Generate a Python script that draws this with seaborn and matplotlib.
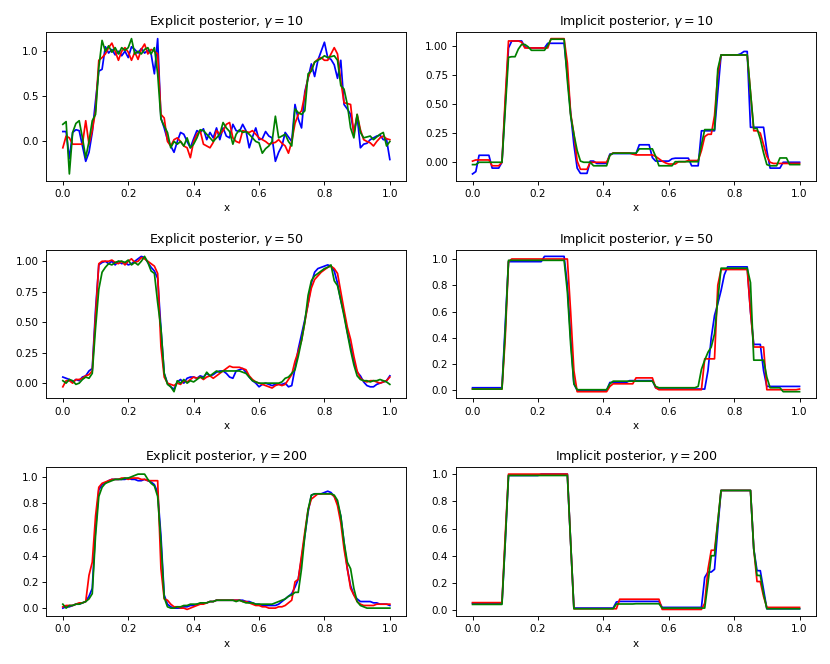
import numpy as np
import seaborn as sns
import matplotlib.pyplot as plt

x = np.round(np.linspace(0, 1, 101), 2)

# explicit posterior, gamma = 10
exp10_blue = [0.11, 0.11, -0.19, 0.10, 0.13, 0.12, -0.05, -0.22, -0.12, 0.10,
              0.45, 0.78, 0.80, 1.05, 0.98, 1.02, 0.96, 1.00, 0.95, 1.00,
              0.93, 1.05, 1.02, 0.98, 1.03, 0.98, 1.01, 0.97, 0.75, 1.14,
              0.26, 0.15, 0.02, -0.05, -0.12, 0.00, 0.10, 0.08, 0.00, -0.07,
              0.03, 0.12, 0.10, 0.14, 0.02, 0.10, 0.04, 0.15, 0.02, 0.15,
              0.06, 0.04, 0.19, 0.12, 0.11, 0.19, 0.12, -0.07, 0.05, 0.15,
              0.02, 0.03, 0.11, 0.06, 0.04, -0.22, -0.12, -0.05, 0.10, 0.05,
              0.00, 0.41, 0.25, 0.15, 0.55, 0.70, 0.86, 0.72, 0.90, 1.00,
              1.10, 0.93, 0.91, 0.85, 0.70, 0.90, 0.41, 0.36, 0.30, 0.10,
              0.28, -0.07, -0.03, -0.02, 0.02, 0.04, 0.06, 0.07, 0.02, 0.02,
              -0.20]
exp10_red = [-0.07, 0.06, 0.04, -0.03, -0.03, -0.03, -0.03, 0.23, -0.03, 0.12,
             0.34, 0.90, 0.93, 0.97, 1.04, 1.09, 1.00, 0.90, 1.00, 1.04,
             0.99, 0.90, 0.99, 0.91, 1.02, 1.08, 0.97, 1.02, 1.00, 0.97,
             0.30, 0.26, 0.00, -0.05, 0.02, 0.04, 0.00, -0.05, -0.07, -0.18,
             0.00, 0.08, 0.12, -0.03, -0.05, -0.07, -0.01, 0.12, 0.08, 0.12,
             0.19, 0.21, 0.04, 0.00, -0.015, 0.12, 0.11, 0.10, 0.12, 0.08,
             0.04, 0.02, 0.00, -0.03, -0.02, -0.01, 0.02, -0.02, -0.05, -0.13,
             0.00, 0.20, 0.30, 0.34, 0.52, 0.71, 0.80, 0.88, 0.91, 0.93,
             0.90, 0.90, 0.97, 1.04, 0.97, 0.67, 0.43, 0.42, 0.41, 0.08,
             0.30, 0.13, 0.02, 0.00, -0.015, -0.05, 0.00, 0.04, 0.06, 0.03,
             0.02]
exp10_green = [0.19, 0.22, -0.36, 0.10, 0.20, 0.23, 0.04, -0.18, 0.00, 0.23,
               0.30, 0.82, 1.12, 1.00, 1.06, 0.99, 1.04, 0.97, 1.04, 1.01,
               1.04, 1.14, 0.97, 1.00, 0.97, 1.02, 1.04, 0.97, 1.04, 0.75,
               0.25, 0.17, 0.10, -0.07, 0.00, -0.03, 0.00, -0.05, 0.04, -0.07,
               -0.03, 0.04, 0.13, 0.12, 0.08, 0.04, 0.00, 0.04, 0.08, 0.21,
               0.15, 0.11, -0.03, 0.08, 0.13, 0.10, 0.11, 0.08, 0.04, 0.00,
               -0.015, -0.13, -0.08, -0.05, 0.00, 0.28, 0.04, 0.06, 0.08, 0.00,
               -0.05, 0.36, 0.32, 0.30, 0.34, 0.75, 0.78, 0.88, 0.90, 0.92,
               0.95, 0.93, 0.94, 0.95, 0.90, 0.62, 0.58, 0.41, 0.15, 0.04,
               0.30, 0.10, 0.04, 0.05, 0.06, 0.02, 0.05, 0.08, 0.10, -0.05,
               0.00]

# explicit posterior, gamma = 50
exp50_blue = [0.05, 0.04, 0.03, 0.01, 0.03, 0.02, 0.05, 0.06, 0.10, 0.12,
              0.60, 0.97, 0.99, 1.00, 0.98, 1.00, 0.97, 1.00, 0.98, 0.99,
              0.97, 0.98, 1.00, 1.02, 1.04, 1.03, 0.99, 0.95, 0.92, 0.86,
              0.45, 0.08, 0.00, -0.03, -0.05, 0.01, 0.03, 0.00, 0.04, 0.05,
              0.05, 0.04, 0.06, 0.05, 0.08, 0.06, 0.07, 0.09, 0.10, 0.10,
              0.08, 0.05, 0.04, 0.10, 0.11, 0.12, 0.09, 0.05, 0.02, 0.00,
              -0.03, -0.01, 0.00, -0.01, -0.02, -0.01, -0.01, -0.01, 0.00, -0.03,
              -0.02, 0.12, 0.28, 0.40, 0.52, 0.65, 0.82, 0.91, 0.94, 0.95,
              0.96, 0.97, 0.96, 0.92, 0.82, 0.68, 0.57, 0.42, 0.30, 0.18,
              0.09, 0.06, 0.01, -0.02, -0.03, -0.03, -0.01, 0.00, 0.01, 0.02,
              0.06]
exp50_red = [-0.03, 0.02, 0.02, 0.00, 0.03, 0.03, 0.04, 0.06, 0.07, 0.10,
             0.55, 0.98, 1.00, 1.00, 1.00, 1.01, 0.99, 0.98, 1.00, 0.97,
             1.00, 1.02, 0.99, 1.00, 1.03, 1.02, 1.00, 0.98, 0.96, 0.90,
             0.30, 0.05, 0.00, -0.01, -0.02, 0.00, -0.01, 0.02, 0.01, 0.03,
             0.05, 0.04, 0.05, 0.03, 0.05, 0.06, 0.04, 0.06, 0.08, 0.10,
             0.12, 0.14, 0.13, 0.13, 0.13, 0.12, 0.11, 0.06, 0.03, 0.01,
             0.00, -0.01, -0.02, -0.03, -0.04, -0.02, -0.01, -0.02, -0.01, 0.03,
             0.07, 0.18, 0.26, 0.35, 0.50, 0.65, 0.78, 0.85, 0.88, 0.91,
             0.93, 0.95, 0.96, 0.94, 0.90, 0.75, 0.60, 0.46, 0.36, 0.22,
             0.10, 0.04, 0.02, 0.01, 0.02, 0.02, 0.01, 0.00, 0.01, 0.02,
             0.05]
exp50_green = [0.02, 0.00, 0.03, 0.02, -0.01, 0.00, 0.03, 0.05, 0.04, 0.08,
               0.45, 0.77, 0.91, 0.95, 0.98, 0.97, 0.99, 1.00, 1.00, 0.99,
               1.01, 0.97, 0.99, 0.97, 1.00, 1.04, 0.99, 0.92, 0.90, 0.66,
               0.45, 0.08, -0.01, -0.03, -0.07, 0.02, 0.00, 0.03, 0.00, 0.02,
               0.01, 0.03, 0.05, 0.04, 0.09, 0.06, 0.08, 0.10, 0.09, 0.10,
               0.10, 0.10, 0.10, 0.10, 0.10, 0.09, 0.08, 0.05, 0.02, 0.01,
               0.00, 0.00, 0.00, 0.00, 0.00, 0.00, 0.00, 0.01, 0.04, 0.05,
               0.08, 0.11, 0.22, 0.35, 0.50, 0.72, 0.84, 0.88, 0.90, 0.92,
               0.94, 0.95, 0.97, 0.84, 0.80, 0.68, 0.55, 0.41, 0.27, 0.15,
               0.06, 0.03, 0.02, 0.02, 0.01, 0.02, 0.02, 0.03, 0.02, 0.01,
               -0.01]

# explicit posterior, gamma = 200
exp200_blue = [0.00, 0.01, 0.01, 0.02, 0.03, 0.03, 0.04, 0.05, 0.09, 0.15,
               0.60, 0.90, 0.94, 0.95, 0.97, 0.98, 0.98, 0.98, 0.98, 0.98,
               0.99, 0.98, 0.98, 0.97, 0.97, 0.98, 0.97, 0.96, 0.94, 0.88,
               0.55, 0.10, 0.03, 0.01, 0.00, 0.00, 0.00, 0.01, 0.01, 0.02,
               0.02, 0.03, 0.03, 0.04, 0.04, 0.05, 0.05, 0.06, 0.06, 0.06,
               0.06, 0.06, 0.06, 0.06, 0.06, 0.06, 0.05, 0.05, 0.04, 0.03,
               0.03, 0.02, 0.02, 0.02, 0.02, 0.02, 0.03, 0.05, 0.07, 0.09,
               0.11, 0.16, 0.22, 0.38, 0.55, 0.73, 0.86, 0.87, 0.87, 0.87,
               0.88, 0.89, 0.88, 0.85, 0.80, 0.70, 0.50, 0.30, 0.17, 0.10,
               0.07, 0.05, 0.05, 0.05, 0.05, 0.04, 0.04, 0.03, 0.03, 0.03,
               0.02]
exp200_red = [0.01, 0.02, 0.02, 0.02, 0.03, 0.04, 0.04, 0.05, 0.25, 0.35,
              0.70, 0.92, 0.95, 0.96, 0.97, 0.98, 0.98, 0.98, 0.99, 0.99,
              0.98, 0.99, 0.99, 0.99, 0.98, 0.98, 0.97, 0.97, 0.97, 0.97,
              0.30, 0.07, 0.06, 0.03, 0.01, 0.01, 0.00, 0.00, -0.01, 0.00,
              0.01, 0.02, 0.03, 0.03, 0.04, 0.05, 0.05, 0.06, 0.06, 0.06,
              0.06, 0.06, 0.06, 0.06, 0.06, 0.05, 0.05, 0.04, 0.03, 0.02,
              0.02, 0.01, 0.01, 0.00, 0.00, 0.00, 0.01, 0.01, 0.02, 0.04,
              0.06, 0.20, 0.22, 0.40, 0.58, 0.75, 0.83, 0.85, 0.87, 0.87,
              0.87, 0.87, 0.87, 0.85, 0.78, 0.65, 0.45, 0.30, 0.15, 0.10,
              0.05, 0.03, 0.02, 0.02, 0.02, 0.02, 0.03, 0.03, 0.03, 0.03,
              0.03]
exp200_green = [0.03, 0.00, 0.02, 0.02, 0.03, 0.03, 0.04, 0.05, 0.07, 0.11,
                0.55, 0.85, 0.92, 0.95, 0.96, 0.97, 0.98, 0.98, 0.98, 0.99,
                0.99, 1.00, 1.01, 1.02, 1.02, 1.02, 0.98, 0.95, 0.93, 0.85,
                0.50, 0.08, 0.01, 0.00, 0.00, 0.01, 0.01, 0.02, 0.02, 0.03,
                0.03, 0.03, 0.04, 0.04, 0.04, 0.05, 0.05, 0.06, 0.06, 0.06,
                0.06, 0.06, 0.06, 0.05, 0.06, 0.05, 0.04, 0.04, 0.04, 0.03,
                0.03, 0.03, 0.03, 0.03, 0.03, 0.04, 0.05, 0.06, 0.07, 0.09,
                0.10, 0.12, 0.12, 0.30, 0.55, 0.75, 0.86, 0.87, 0.87, 0.87,
                0.87, 0.87, 0.87, 0.86, 0.82, 0.70, 0.50, 0.35, 0.30, 0.15,
                0.05, 0.02, 0.01, 0.00, 0.00, 0.00, 0.00, 0.00, 0.00, 0.00,
                0.00]

# implicit posterior, gamma = 10
imp10_blue = [-0.10, -0.08, 0.06, 0.06, 0.06, 0.06, -0.05, -0.05, -0.05, 0.00,
              0.50, 0.98, 1.04, 1.04, 1.04, 1.04, 0.99, 0.98, 0.98, 0.98,
              0.98, 0.98, 0.98, 1.02, 1.02, 1.02, 1.02, 1.02, 1.02, 0.75,
              0.42, 0.15, -0.05, -0.095, -0.095, -0.095, 0.01, 0.01, -0.01, -0.01,
              -0.01, -0.01, 0.07, 0.075, 0.075, 0.075, 0.075, 0.075, 0.075, 0.075,
              0.075, 0.15, 0.15, 0.15, 0.15, 0.04, 0.01, 0.01, 0.01, 0.01,
              0.01, 0.03, 0.035, 0.035, 0.035, 0.035, 0.035, -0.03, -0.03, -0.03,
              0.27, 0.27, 0.27, 0.27, 0.27, 0.60, 0.92, 0.92, 0.92, 0.92,
              0.92, 0.92, 0.93, 0.95, 0.95, 0.30, 0.30, 0.30, 0.30, 0.30,
              0.10, -0.05, -0.05, -0.05, -0.05, 0.00, 0.00, 0.00, 0.00, 0.00,
              0.00]
imp10_red = [0.01, 0.02, 0.02, 0.02, 0.02, 0.02, -0.03, -0.03, -0.03, 0.00,
             0.55, 1.04, 1.04, 1.04, 1.04, 1.03, 0.98, 0.98, 0.98, 0.98,
             0.98, 0.98, 0.98, 0.98, 1.06, 1.06, 1.06, 1.06, 1.06, 0.85,
             0.42, 0.24, 0.01, -0.06, -0.06, -0.06, 0.00, 0.00, 0.00, 0.00,
             0.00, 0.00, 0.06, 0.08, 0.08, 0.08, 0.08, 0.08, 0.08, 0.07,
             0.063, 0.063, 0.063, 0.063, 0.063, 0.063, 0.05, 0.03, 0.01, -0.005,
             -0.015, -0.015, -0.015, 0.005, 0.005, 0.005, 0.015, 0.015, 0.015, 0.015,
             0.10, 0.22, 0.24, 0.24, 0.40, 0.75, 0.92, 0.92, 0.92, 0.92,
             0.92, 0.92, 0.92, 0.92, 0.92, 0.60, 0.27, 0.27, 0.25, 0.15,
             0.05, 0.00, -0.01, -0.01, -0.01, -0.01, -0.01, -0.01, -0.01, -0.01,
             -0.01]
imp10_green = [-0.02, -0.02, 0.00, 0.00, 0.00, 0.00, 0.00, 0.00, 0.00, 0.00,
               0.45, 0.90, 0.905, 0.905, 0.97, 1.01, 1.01, 0.99, 0.96, 0.96,
               0.96, 0.96, 0.96, 1.00, 1.055, 1.055, 1.055, 1.055, 1.055, 0.70,
               0.40, 0.24, 0.10, 0.01, 0.00, 0.00, 0.00, -0.03, -0.03, -0.03,
               -0.03, -0.03, 0.06, 0.078, 0.078, 0.078, 0.078, 0.078, 0.078, 0.078,
               0.078, 0.115, 0.115, 0.115, 0.115, 0.115, 0.05, -0.03, -0.03, -0.03,
               -0.03, -0.03, 0.005, 0.005, 0.005, 0.005, 0.005, 0.005, 0.005, 0.005,
               0.15, 0.28, 0.28, 0.28, 0.28, 0.80, 0.92, 0.92, 0.92, 0.92,
               0.92, 0.92, 0.92, 0.92, 0.92, 0.60, 0.29, 0.29, 0.20, 0.08,
               -0.02, -0.03, -0.03, -0.03, 0.037, 0.037, 0.037, -0.02, -0.02, -0.02,
               -0.02]

# implicit posterior, gamma = 50
imp50_blue = [0.02, 0.02, 0.02, 0.02, 0.02, 0.02, 0.02, 0.02, 0.02, 0.02,
              0.50, 0.98, 0.98, 0.98, 0.98, 0.98, 0.98, 0.98, 0.98, 0.98,
              0.98, 0.98, 1.02, 1.02, 1.02, 1.02, 1.02, 1.02, 1.02, 0.80,
              0.40, 0.05, 0.00, 0.00, 0.00, 0.00, 0.00, 0.00, 0.00, 0.00,
              0.00, 0.00, 0.06, 0.06, 0.06, 0.06, 0.06, 0.06, 0.074, 0.074,
              0.074, 0.074, 0.074, 0.074, 0.074, 0.074, 0.02, 0.01, 0.01, 0.01,
              0.01, 0.01, 0.01, 0.01, 0.01, 0.01, 0.01, 0.01, 0.01, 0.01,
              0.01, 0.01, 0.15, 0.40, 0.57, 0.66, 0.76, 0.88, 0.94, 0.94,
              0.94, 0.94, 0.94, 0.94, 0.94, 0.60, 0.35, 0.35, 0.35, 0.15,
              0.03, 0.03, 0.03, 0.03, 0.03, 0.03, 0.03, 0.03, 0.03, 0.03,
              0.03]
imp50_red = [0.01, 0.01, 0.01, 0.01, 0.01, 0.01, 0.01, 0.01, 0.01, 0.01,
             0.40, 0.98, 1.00, 1.00, 1.00, 1.00, 1.00, 1.00, 1.00, 1.00,
             1.00, 1.00, 1.00, 1.00, 1.00, 1.00, 1.00, 1.00, 1.00, 1.00,
             0.60, 0.15, -0.01, -0.01, -0.01, -0.01, -0.01, -0.01, -0.01, -0.01,
             -0.01, -0.01, 0.03, 0.05, 0.05, 0.05, 0.05, 0.05, 0.05, 0.05,
             0.095, 0.095, 0.095, 0.095, 0.095, 0.095, 0.02, 0.005, 0.005, 0.005,
             0.005, 0.005, 0.005, 0.005, 0.005, 0.005, 0.005, 0.005, 0.005, 0.005,
             0.005, 0.24, 0.24, 0.24, 0.24, 0.80, 0.92, 0.92, 0.92, 0.92,
             0.92, 0.92, 0.92, 0.92, 0.92, 0.60, 0.33, 0.33, 0.33, 0.33,
             0.005, 0.005, 0.005, 0.005, 0.005, 0.005, 0.005, 0.005, 0.005, 0.005,
             0.01]
imp50_green = [0.01, 0.01, 0.01, 0.01, 0.01, 0.01, 0.01, 0.01, 0.01, 0.01,
               0.45, 0.99, 0.99, 0.99, 0.99, 0.99, 0.99, 0.99, 0.99, 0.99,
               0.99, 0.99, 0.99, 0.99, 0.99, 0.99, 0.99, 0.99, 0.99, 0.75,
               0.35, 0.05, 0.005, 0.005, 0.005, 0.005, 0.005, 0.005, 0.005, 0.005,
               0.005, 0.005, 0.05, 0.07, 0.07, 0.07, 0.07, 0.07, 0.07, 0.07,
               0.07, 0.07, 0.07, 0.07, 0.07, 0.07, 0.03, 0.02, 0.02, 0.02,
               0.02, 0.02, 0.02, 0.02, 0.02, 0.02, 0.02, 0.02, 0.02, 0.03,
               0.16, 0.23, 0.29, 0.33, 0.43, 0.69, 0.93, 0.93, 0.93, 0.93,
               0.93, 0.93, 0.93, 0.93, 0.93, 0.82, 0.23, 0.23, 0.23, 0.23,
               0.10, 0.02, 0.02, 0.02, 0.02, -0.01, -0.01, -0.01, -0.01, -0.01,
               -0.01]

# implicit posterior, gamma = 200
imp200_blue = [0.05, 0.05, 0.05, 0.05, 0.05, 0.05, 0.05, 0.05, 0.05, 0.05,
               0.50, 0.99, 0.99, 0.99, 0.99, 0.99, 0.99, 0.99, 0.99, 0.99,
               0.99, 1.00, 1.00, 1.00, 1.00, 1.00, 1.00, 1.00, 1.00, 1.00,
               0.50, 0.015, 0.015, 0.015, 0.015, 0.015, 0.015, 0.015, 0.015, 0.015,
               0.015, 0.015, 0.015, 0.015, 0.06, 0.064, 0.064, 0.064, 0.064, 0.064,
               0.064, 0.064, 0.064, 0.064, 0.064, 0.064, 0.064, 0.064, 0.02, 0.02,
               0.02, 0.02, 0.02, 0.02, 0.02, 0.02, 0.02, 0.02, 0.02, 0.02,
               0.02, 0.24, 0.28, 0.28, 0.30, 0.60, 0.88, 0.88, 0.88, 0.88,
               0.88, 0.88, 0.88, 0.88, 0.88, 0.88, 0.45, 0.29, 0.29, 0.15,
               0.01, 0.01, 0.01, 0.01, 0.01, 0.01, 0.01, 0.01, 0.01, 0.01,
               0.01]
imp200_red = [0.055, 0.055, 0.055, 0.055, 0.055, 0.055, 0.055, 0.055, 0.055, 0.055,
              0.55, 1.00, 1.00, 1.00, 1.00, 1.00, 1.00, 1.00, 1.00, 1.00,
              1.00, 1.00, 1.00, 1.00, 1.00, 1.00, 1.00, 1.00, 1.00, 1.00,
              0.50, 0.01, 0.01, 0.01, 0.01, 0.01, 0.01, 0.01, 0.01, 0.01,
              0.01, 0.01, 0.01, 0.01, 0.01, 0.08, 0.08, 0.08, 0.08, 0.08,
              0.08, 0.08, 0.08, 0.08, 0.08, 0.08, 0.08, 0.08, 0.005, 0.005,
              0.005, 0.005, 0.005, 0.005, 0.005, 0.005, 0.005, 0.005, 0.005, 0.005,
              0.005, 0.05, 0.30, 0.44, 0.44, 0.65, 0.88, 0.88, 0.88, 0.88,
              0.88, 0.88, 0.88, 0.88, 0.88, 0.88, 0.45, 0.21, 0.21, 0.10,
              0.02, 0.02, 0.02, 0.02, 0.02, 0.02, 0.02, 0.02, 0.02, 0.02,
              0.02]
imp200_green = [0.042, 0.042, 0.042, 0.042, 0.042, 0.042, 0.042, 0.042, 0.042, 0.042,
                0.50, 0.99, 0.99, 0.99, 0.99, 0.99, 0.99, 0.99, 0.99, 0.99,
                0.99, 0.99, 0.99, 0.99, 0.99, 0.99, 0.99, 0.99, 0.99, 0.99,
                0.50, 0.01, 0.01, 0.01, 0.01, 0.01, 0.01, 0.01, 0.01, 0.01,
                0.01, 0.01, 0.01, 0.01, 0.045, 0.045, 0.045, 0.045, 0.045, 0.045,
                0.047, 0.047, 0.047, 0.047, 0.047, 0.047, 0.047, 0.047, 0.015, 0.015,
                0.015, 0.015, 0.015, 0.015, 0.015, 0.015, 0.015, 0.015, 0.015, 0.015,
                0.015, 0.015, 0.20, 0.40, 0.40, 0.65, 0.88, 0.88, 0.88, 0.88,
                0.88, 0.88, 0.88, 0.88, 0.88, 0.88, 0.45, 0.255, 0.255, 0.12,
                0.01, 0.01, 0.01, 0.01, 0.01, 0.01, 0.01, 0.01, 0.01, 0.01,
                0.01]

gammas = [10, 50, 200]
explicit = [(exp10_blue, exp10_red, exp10_green),
            (exp50_blue, exp50_red, exp50_green),
            (exp200_blue, exp200_red, exp200_green)]
implicit = [(imp10_blue, imp10_red, imp10_green),
            (imp50_blue, imp50_red, imp50_green),
            (imp200_blue, imp200_red, imp200_green)]
colors = ["b", "r", "g"]

# y tick positions as printed on each panel (explicit, implicit)
yticks = [([0.0, 0.5, 1.0], [0.0, 0.25, 0.5, 0.75, 1.0]),
          ([0.0, 0.25, 0.5, 0.75, 1.0], [0.0, 0.2, 0.4, 0.6, 0.8, 1.0]),
          ([0.0, 0.2, 0.4, 0.6, 0.8, 1.0], [0.0, 0.2, 0.4, 0.6, 0.8, 1.0])]

fig, axes = plt.subplots(3, 2, figsize=(10, 8), dpi=83)
plt.subplots_adjust(left=0.056, right=0.983, bottom=0.072, top=0.952,
                    wspace=0.139, hspace=0.463)

for row, g in enumerate(gammas):
    for col, (kind, curves) in enumerate([("Explicit", explicit[row]),
                                          ("Implicit", implicit[row])]):
        ax = axes[row, col]
        for vals, c in zip(curves, colors):
            sns.lineplot(x=x, y=vals, color=c, linewidth=1.5, estimator=None, ax=ax)
        ax.set_yticks(yticks[row][col])
        ax.set_title(f"{kind} posterior, $\\gamma = {g}$", fontsize=11)
        ax.set_xlabel("x", fontsize=9)
        ax.set_ylabel("")
        ax.tick_params(labelsize=9)

fig.savefig("out.png", dpi=83)
